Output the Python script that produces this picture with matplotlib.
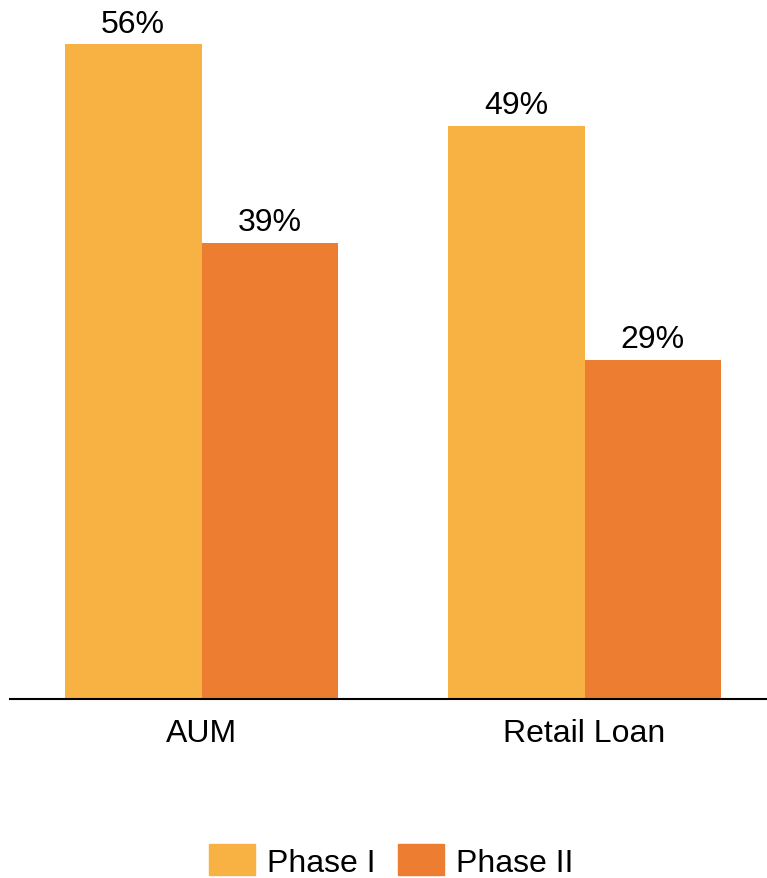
import numpy as np
import matplotlib.pyplot as plt
from matplotlib.patches import Patch

plt.rcParams['font.family'] = ['Liberation Sans', 'DejaVu Sans']

categories = ['AUM', 'Retail Loan']
series = ['Phase I', 'Phase II']
phase1 = [56, 49]
phase2 = [39, 29]
colors = ['#F8B244', '#ED7D31']

W, H = 767, 879
fig = plt.figure(figsize=(W / 100, H / 100), dpi=100)
# axes: left at x=10px, baseline at y=700px, top at figure top
ax = fig.add_axes([10 / W, (H - 700) / H, 1 - 10 / W, 700 / H])

x = np.arange(len(categories))
bw = 0.3565
b1 = ax.bar(x - bw / 2, phase1, bw, color=colors[0])
b2 = ax.bar(x + bw / 2, phase2, bw, color=colors[1])

for bars, vals in [(b1, phase1), (b2, phase2)]:
    for r, v in zip(bars, vals):
        ax.annotate(f'{v}%', (r.get_x() + r.get_width() / 2, v),
                    xytext=(0, 3.8), textcoords='offset points',
                    ha='center', va='bottom', fontsize=23)

ax.set_xlim(-0.5, -0.5 + (W - 10) / 383)
ax.set_ylim(0, 700 / 11.70)
for s in ['top', 'right', 'left']:
    ax.spines[s].set_visible(False)
ax.spines['bottom'].set_linewidth(1.5)
ax.set_yticks([])
ax.set_xticks(x)
ax.set_xticklabels(categories, fontsize=23)
ax.tick_params(axis='x', length=0, pad=13.5)

handles = [Patch(color=c, label=s) for c, s in zip(colors, series)]
fig.legend(handles=handles, loc='center', bbox_to_anchor=(391 / W, (H - 862) / H),
           ncol=2, frameon=False, fontsize=23, handlelength=1.44, handleheight=1.1,
           handletextpad=0.375, columnspacing=0.7, borderpad=0)

fig.savefig('out.png', dpi=100)
